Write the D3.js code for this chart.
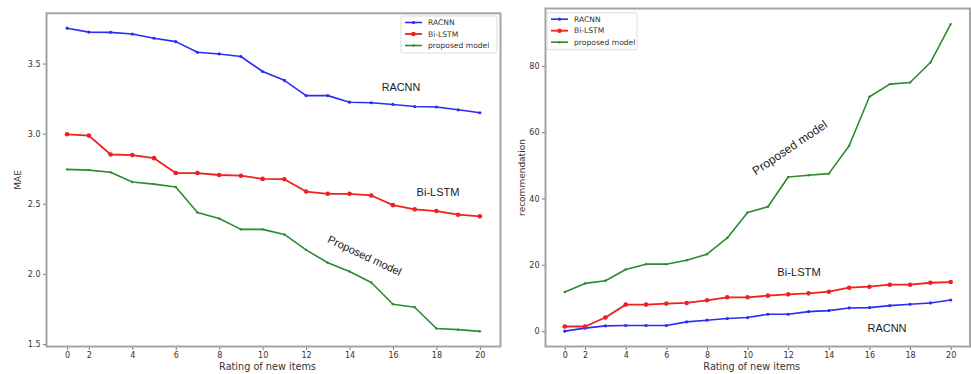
<!DOCTYPE html>
<html>
<head>
<meta charset="utf-8">
<script src="https://cdn.jsdelivr.net/npm/d3@7"></script>
<style>
  body { margin: 0; background: #fff; }
  svg { display: block; }
</style>
</head>
<body>
<svg id="chart" width="971" height="374"></svg>
<script>
// x positions (equally spaced) and the labels that the figure prints under them
const xIndex = d3.range(20);
const xTickIdx = [0, 1, 3, 5, 7, 9, 11, 13, 15, 17, 19];
const xTickLabels = ['0', '2', '4', '6', '8', '10', '12', '14', '16', '18', '20'];

const seriesNames = ['RACNN', 'Bi-LSTM', 'proposed model'];

// left panel: MAE
const maeRacnn = [3.752, 3.724, 3.722, 3.71, 3.68, 3.656, 3.58, 3.568, 3.55, 3.443,
                  3.38, 3.271, 3.271, 3.224, 3.22, 3.208, 3.193, 3.19, 3.17, 3.149];
const maeBiLstm = [2.995, 2.986, 2.851, 2.847, 2.825, 2.719, 2.719, 2.705, 2.70, 2.677,
                   2.675, 2.587, 2.571, 2.571, 2.559, 2.49, 2.46, 2.448, 2.422, 2.41];
const maeProposed = [2.745, 2.74, 2.724, 2.655, 2.64, 2.619, 2.438, 2.395, 2.317, 2.317,
                     2.281, 2.171, 2.079, 2.017, 1.938, 1.783, 1.762, 1.61, 1.602, 1.59];
const maeTicks = [1.5, 2.0, 2.5, 3.0, 3.5];

// right panel: recommendation
const recRacnn = [0, 0.9, 1.6, 1.7, 1.7, 1.7, 2.8, 3.3, 3.8, 4.1,
                  5.1, 5.1, 5.9, 6.2, 7.0, 7.1, 7.7, 8.1, 8.5, 9.4];
const recBiLstm = [1.4, 1.4, 4.1, 8.0, 8.0, 8.3, 8.5, 9.3, 10.2, 10.2,
                   10.7, 11.1, 11.4, 11.9, 13.1, 13.4, 14.0, 14.0, 14.6, 14.8];
const recProposed = [11.8, 14.4, 15.2, 18.6, 20.2, 20.2, 21.4, 23.2, 28.1, 35.8,
                     37.5, 46.5, 47.0, 47.5, 55.9, 70.7, 74.5, 75.0, 81.0, 92.6];
const recTicks = [0, 20, 40, 60, 80];

const colors = ['#2b2bf5', '#ee2020', '#2e8a2e'];
const dotR = [1.6, 2.3, 1.2];
const lineW = [1.6, 1.8, 1.6];

const svg = d3.select('#chart');

function panel(opt) {
    const x = d3.scaleLinear().domain([-0.95, 19.95]).range([opt.left, opt.right]);
    const y = d3.scaleLinear().domain(opt.yDomain).range([opt.bottom, opt.top]);
    const g = svg.append('g');

    // x axis
    const xa = g.append('g')
        .attr('transform', `translate(0,${opt.bottom})`)
        .call(d3.axisBottom(x).tickValues(xTickIdx)
            .tickFormat((d, i) => xTickLabels[i]).tickSize(3.5).tickPadding(2.5));
    const ya = g.append('g')
        .attr('transform', `translate(${opt.left},0)`)
        .call(d3.axisLeft(y).tickValues(opt.yTicks)
            .tickFormat(opt.yFormat).tickSize(3.5).tickPadding(2.5));
    [xa, ya].forEach(a => {
        a.select('.domain').remove();
        a.selectAll('line').attr('stroke', '#777');
        a.selectAll('text').attr('fill', '#333')
            .style('font-family', 'DejaVu Sans').style('font-size', '8px');
    });

    // series
    opt.series.forEach((vals, s) => {
        const line = d3.line().x((d, i) => x(xIndex[i])).y(d => y(d));
        g.append('path')
            .datum(vals)
            .attr('d', line)
            .attr('fill', 'none')
            .attr('stroke', colors[s])
            .attr('stroke-width', lineW[s])
            .attr('stroke-linejoin', 'round');
        g.append('g').selectAll('circle')
            .data(vals)
            .join('circle')
            .attr('cx', (d, i) => x(xIndex[i]))
            .attr('cy', d => y(d))
            .attr('r', dotR[s])
            .attr('fill', colors[s]);
    });

    // frame
    g.append('rect')
        .attr('x', opt.left).attr('y', opt.top)
        .attr('width', opt.right - opt.left).attr('height', opt.bottom - opt.top)
        .attr('fill', 'none').attr('stroke', '#a4a4a4').attr('stroke-width', 2);

    // axis titles
    g.append('text')
        .attr('x', (opt.left + opt.right) / 2 - 6).attr('y', 370)
        .attr('text-anchor', 'middle')
        .style('font-family', 'DejaVu Sans').style('font-size', '9.7px').attr('fill', '#333')
        .text('Rating of new items');
    g.append('text')
        .attr('transform', `translate(${opt.yLabelX},${(opt.top + opt.bottom) / 2}) rotate(-90)`)
        .attr('text-anchor', 'middle')
        .style('font-family', 'DejaVu Sans').style('font-size', '9px').attr('fill', '#333')
        .text(opt.yLabel);

    // legend
    const lg = g.append('g').attr('transform', `translate(${opt.legend[0]},${opt.legend[1]})`);
    lg.append('rect')
        .attr('width', opt.legendW).attr('height', 37).attr('rx', 2)
        .attr('fill', '#fff').attr('stroke', '#ddd').attr('stroke-width', 1);
    seriesNames.forEach((name, s) => {
        const ry = 6.5 + s * 11.5;
        lg.append('line')
            .attr('x1', 4).attr('x2', 21).attr('y1', ry).attr('y2', ry)
            .attr('stroke', colors[s]).attr('stroke-width', lineW[s]);
        lg.append('circle').attr('cx', 12.5).attr('cy', ry).attr('r', dotR[s]).attr('fill', colors[s]);
        lg.append('text')
            .attr('x', 27).attr('y', ry + 2.7)
            .style('font-family', 'DejaVu Sans').style('font-size', '7.6px').attr('fill', '#333')
            .text(name);
    });

    // annotations
    opt.notes.forEach(n => {
        g.append('text')
            .attr('transform', `translate(${n.x},${n.y}) rotate(${n.rot || 0})`)
            .attr('text-anchor', 'middle')
            .style('font-family', 'Liberation Sans').style('font-size', n.size + 'px')
            .attr('fill', '#222')
            .text(n.text);
    });
}

panel({
    left: 46.5, right: 500.5, top: 13.3, bottom: 346.5,
    yDomain: [1.482, 3.858], yTicks: maeTicks, yFormat: d3.format('.1f'),
    yLabel: 'MAE', yLabelX: 21,
    series: [maeRacnn, maeBiLstm, maeProposed],
    legend: [401, 16], legendW: 96,
    notes: [
        { text: 'RACNN', x: 401, y: 91, size: 10.8 },
        { text: 'Bi-LSTM', x: 438, y: 196, size: 11 },
        { text: 'Proposed model', x: 363, y: 259, size: 11, rot: 25 }
    ]
});

panel({
    left: 545.5, right: 970, top: 8.5, bottom: 346.5,
    yDomain: [-4.63, 97.3], yTicks: recTicks, yFormat: d3.format('d'),
    yLabel: 'recommendation', yLabelX: 525,
    series: [recRacnn, recBiLstm, recProposed],
    legend: [547, 12.7], legendW: 90,
    notes: [
        { text: 'Proposed model', x: 792, y: 151, size: 12, rot: -34 },
        { text: 'Bi-LSTM', x: 799, y: 276, size: 11.2 },
        { text: 'RACNN', x: 887, y: 332, size: 11 }
    ]
});
</script>
</body>
</html>
